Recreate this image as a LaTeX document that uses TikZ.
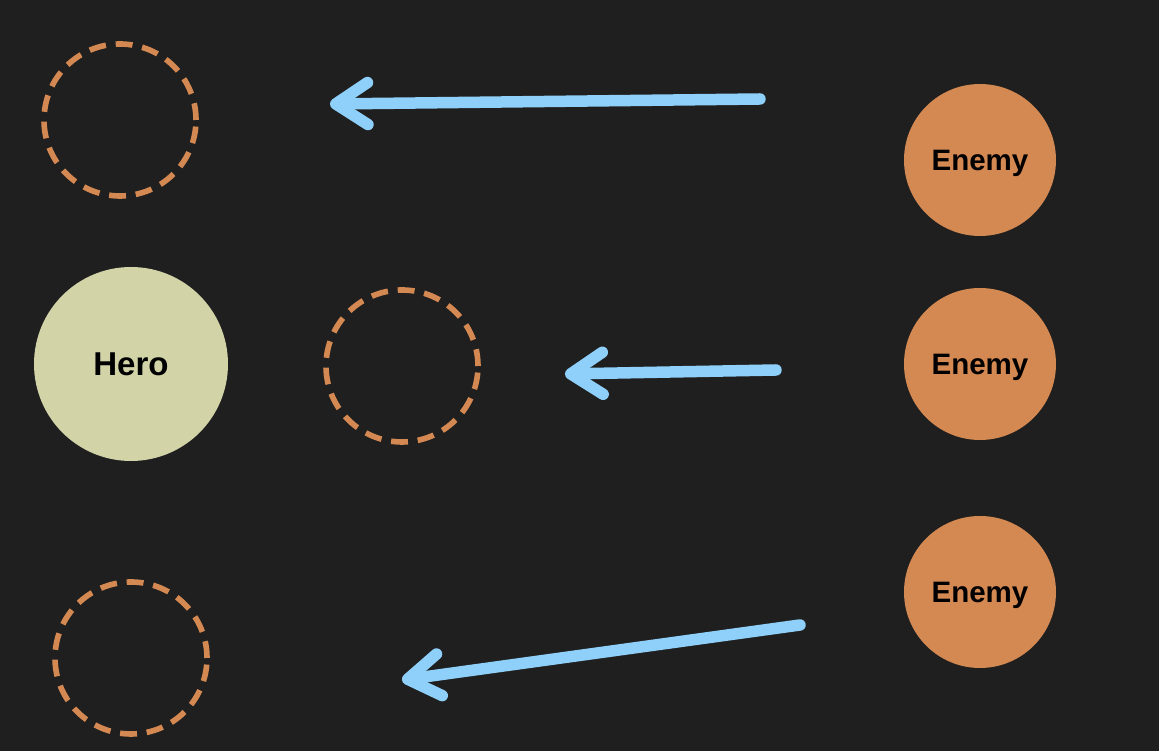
\documentclass[tikz,border=0pt]{standalone}
\usepackage{fontspec}
\setmainfont{Liberation Sans}
\usepackage{tikz}
\usetikzlibrary{arrows.meta}

\definecolor{bg}{HTML}{1F1F1F}
\definecolor{enemyorange}{HTML}{D48852}
\definecolor{heroyellow}{HTML}{D2D4A7}
\definecolor{pushblue}{HTML}{8FD0FA}

\tikzset{
  hero/.style={circle, fill=heroyellow, minimum size=1.94cm, inner sep=0pt,
    font=\fontsize{9.4}{11}\selectfont\bfseries},
  enemy/.style={circle, fill=enemyorange, minimum size=1.52cm, inner sep=0pt,
    text depth=0pt, font=\fontsize{8.4}{10}\selectfont\bfseries},
  ghost/.style={circle, draw=enemyorange, line width=1.6pt,
    dash pattern=on 4.8pt off 2.8pt, minimum size=1.52cm, inner sep=0pt},
  push/.style={draw=pushblue, line width=0.115cm, line cap=round,
    -{Straight Barb[length=0.32cm, width=0.42cm, round]}}
}

\begin{document}
\begin{tikzpicture}

\fill[bg] (0,0) rectangle (11.59,-7.51);
\useasboundingbox (0,0) rectangle (11.59,-7.51);

\node (hero) at (1.31,-3.64) [hero] {Hero};

\node (ghostA) at (1.20,-1.20) [ghost] {};
\node (ghostB) at (4.02,-3.66) [ghost] {};
\node (ghostC) at (1.31,-6.58) [ghost] {};

\node (enemyA) at (9.80,-1.60) [enemy] {Enemy};
\node (enemyB) at (9.80,-3.64) [enemy] {Enemy};
\node (enemyC) at (9.80,-5.92) [enemy] {Enemy};

\coordinate (fromA) at (7.60,-0.99);
\coordinate (toA) at (3.30,-1.04);
\coordinate (fromB) at (7.76,-3.70);
\coordinate (toB) at (5.65,-3.74);
\coordinate (fromC) at (8.00,-6.25);
\coordinate (toC) at (4.02,-6.80);

\draw[push] (fromA) -- (toA);
\draw[push] (fromB) -- (toB);
\draw[push] (fromC) -- (toC);

\end{tikzpicture}
\end{document}
